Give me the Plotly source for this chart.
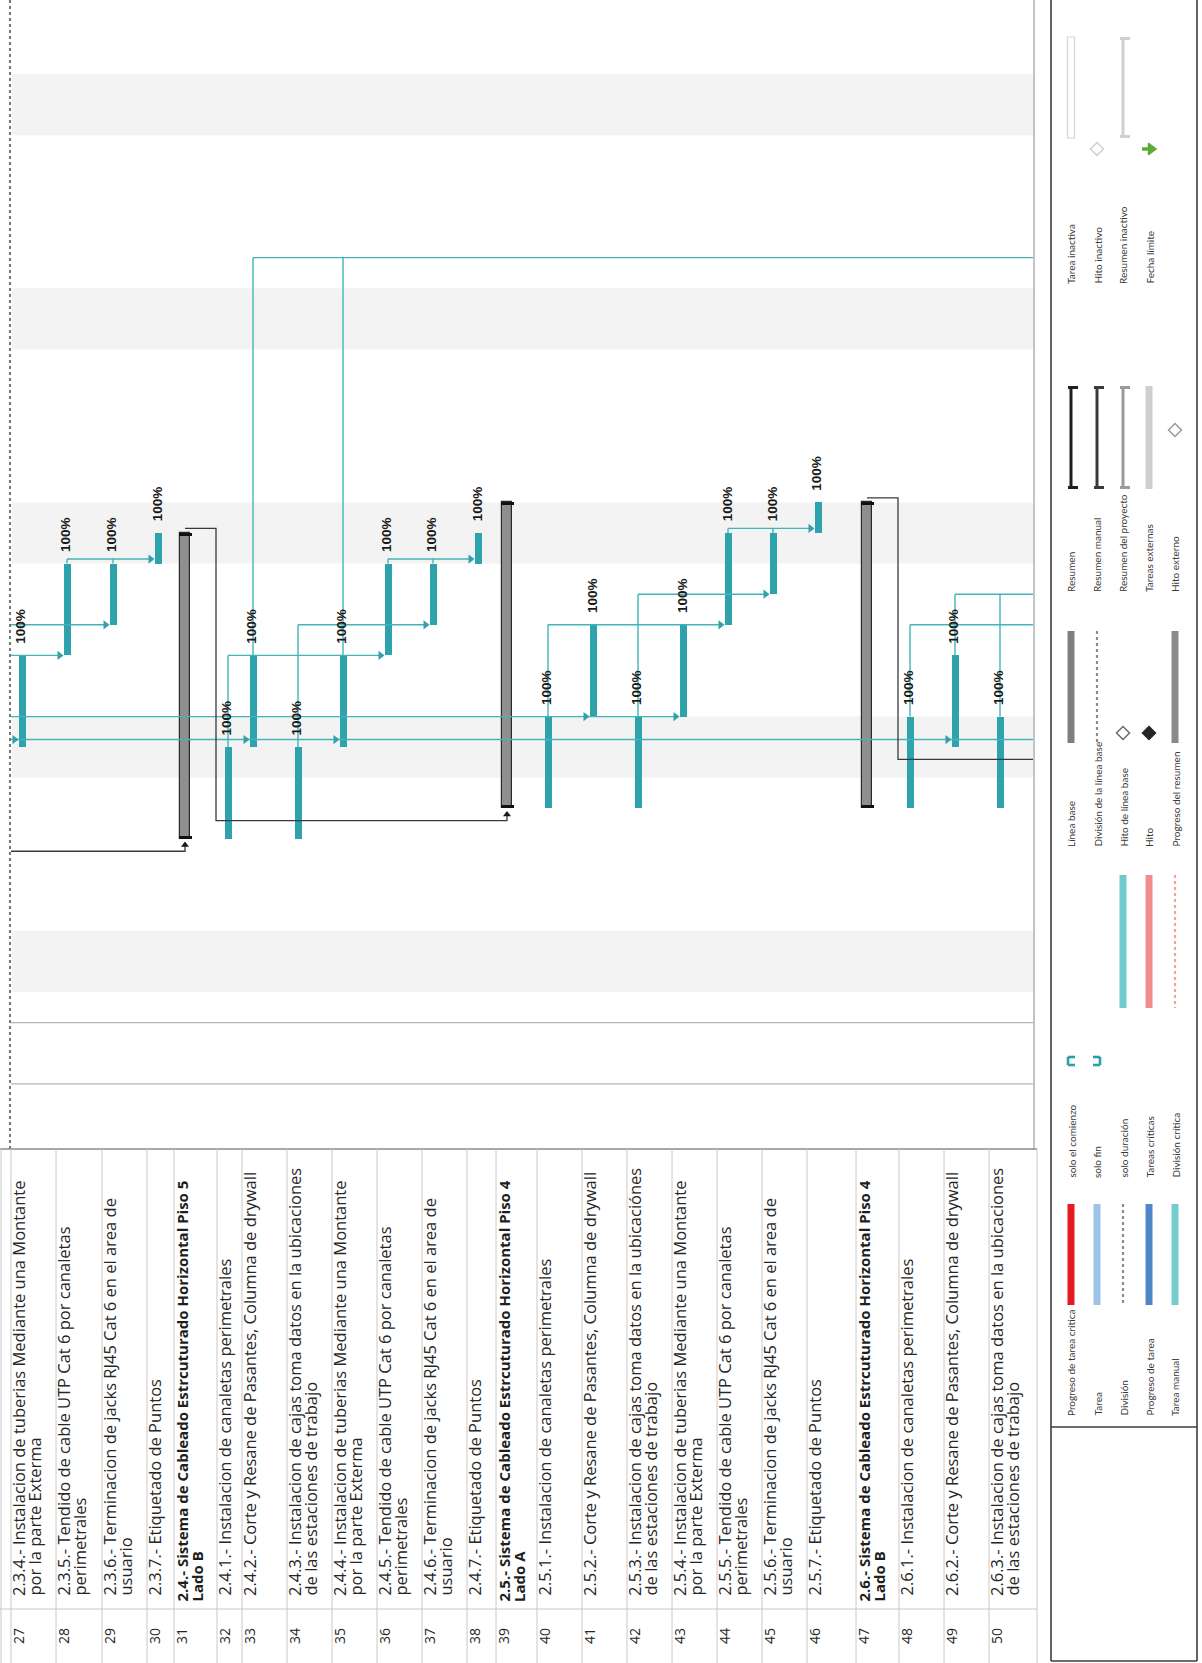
import plotly.graph_objects as go

# ------------------------------------------------------------------
# Schedule rows 27-50 (task sheet + Gantt, printed sideways)
# ------------------------------------------------------------------
task_ids = [27, 28, 29, 30, 31, 32, 33, 34, 35, 36, 37, 38,
            39, 40, 41, 42, 43, 44, 45, 46, 47, 48, 49, 50]

task_names = [
    "2.3.4.- Instalacion de tuberias Mediante una Montante<br>por la parte Exterma",
    "2.3.5.- Tendido de cable UTP Cat 6 por canaletas<br>perimetrales",
    "2.3.6.- Terminacion de jacks RJ45 Cat 6 en el area de<br>usuario",
    "2.3.7.- Etiquetado de Puntos",
    "2.4.- Sistema de Cableado Estrcuturado Horizontal Piso 5<br>Lado B",
    "2.4.1.- Instalacion de canaletas perimetrales",
    "2.4.2.- Corte y Resane de Pasantes, Columna de drywall",
    "2.4.3.- Instalacion de cajas toma datos en la ubicaciones<br>de las estaciones de trabajo",
    "2.4.4.- Instalacion de tuberias Mediante una Montante<br>por la parte Exterma",
    "2.4.5.- Tendido de cable UTP Cat 6 por canaletas<br>perimetrales",
    "2.4.6.- Terminacion de jacks RJ45 Cat 6 en el area de<br>usuario",
    "2.4.7.- Etiquetado de Puntos",
    "2.5.- Sistema de Cableado Estrcuturado Horizontal Piso 4<br>Lado A",
    "2.5.1.- Instalacion de canaletas perimetrales",
    "2.5.2.- Corte y Resane de Pasantes, Columna de drywall",
    "2.5.3.- Instalacion de cajas toma datos en la ubicaciónes<br>de las estaciones de trabajo",
    "2.5.4.- Instalacion de tuberias Mediante una Montante<br>por la parte Exterma",
    "2.5.5.- Tendido de cable UTP Cat 6 por canaletas<br>perimetrales",
    "2.5.6.- Terminacion de jacks RJ45 Cat 6 en el area de<br>usuario",
    "2.5.7.- Etiquetado de Puntos",
    "2.6.- Sistema de Cableado Estrcuturado Horizontal Piso 4<br>Lado B",
    "2.6.1.- Instalacion de canaletas perimetrales",
    "2.6.2.- Corte y Resane de Pasantes, Columna de drywall",
    "2.6.3.- Instalacion de cajas toma datos en la ubicaciones<br>de las estaciones de trabajo",
]

is_summary = [False, False, False, False, True, False, False, False, False, False, False, False,
              True, False, False, False, False, False, False, False, True, False, False, False]

# working-day index (0 = first Saturday shown at the bottom of the timeline)
start_day = [8, 11, 12, 14, 5, 5, 8, 5, 8, 11, 12, 14,
             6, 6, 9, 6, 9, 12, 13, 15, 6, 6, 8, 6]
finish_day = [11, 14, 14, 15, 15, 8, 11, 8, 11, 14, 14, 15,
              16, 9, 12, 9, 12, 15, 15, 16, 16, 9, 11, 9]
pct_complete = [100, 100, 100, 100, None, 100, 100, 100, 100, 100, 100, 100,
                None, 100, 100, 100, 100, 100, 100, 100, None, 100, 100, 100]

# non-working days (Saturday of each weekend, 2 days long)
weekend_first_day = [0, 7, 14, 21, 28]
timeline_gridlines = [-1, -3]

# dependency lanes: (time level, origin task or "edge", tasks rising into the lane,
#                    successor tasks receiving an arrow, continues past the right edge)
link_lanes = [
    (8.25, "edge", [], [27, 33, 35, 49], True),
    (11.0, "edge", [27], [28], False),
    (12.0, "edge", [], [29], False),
    (14.15, 28, [28, 29], [30], False),
    (11.0, 32, [32, 33, 35], [36], False),
    (12.0, 34, [34], [37], False),
    (14.15, 36, [36, 37], [38], False),
    (24.0, 33, [33, 35], [], True),
    (9.0, "edge", [40, 42], [41, 43], False),
    (12.0, 40, [40, 41, 43], [44], False),
    (13.0, 42, [42], [45], False),
    (15.15, 44, [44, 45], [46], False),
    (12.0, 48, [48], [], True),
    (13.0, 49, [49, 50], [], True),
]
# summary-to-summary links: (predecessor, successor, successor start)
summary_links = [("edge", 31, 5), (31, 39, 6), (47, "edge", 8)]

# legend (five groups)
legend_labels = [
    ["Progreso de tarea crítica", "Tarea", "División", "Progreso de tarea", "Tarea manual"],
    ["solo el comienzo", "solo fin", "solo duración", "Tareas críticas", "División crítica"],
    ["Línea base", "División de la línea base", "Hito de línea base", "Hito", "Progreso del resumen"],
    ["Resumen", "Resumen manual", "Resumen del proyecto", "Tareas externas", "Hito externo"],
    ["Tarea inactiva", "Hito inactivo", "Resumen inactivo", "Fecha límite"],
]
legend_symbols = [
    [("bar", "#e31b23"), ("bar", "#9dc3e6"), ("dots", "#8c8c8c"), ("bar", "#4f86c6"), ("bar", "#74cdcd")],
    [("start", "#2b9ea6"), ("end", "#2b9ea6"), ("bar", "#6fcbcc"), ("bar", "#f08c8c"), ("dots", "#f2a0a0")],
    [("bar", "#7f7f7f"), ("dots", "#8c8c8c"), ("diamond_open", "#6b6b6b"), ("diamond", "#262626"), ("bar", "#8a8a8a")],
    [("summary", "#1f1f1f"), ("summary", "#3a3a3a"), ("summary", "#9a9a9a"), ("bar", "#cfcfcf"), ("diamond_open", "#9a9a9a")],
    [("outline", "#d4d4d4"), ("diamond_open", "#cfcfcf"), ("summary", "#d0d0d0"), ("deadline", "#5ea83a")],
]

# ------------------------------------------------------------------
# Page geometry (pixels)
# ------------------------------------------------------------------
W, H = 1202, 1663
GANTT_L, GANTT_R = 11, 1034
GANTT_BOTTOM = 1149
PX_PER_DAY = 30.6
DAY0_Y = 992
T_TOP = DAY0_Y / PX_PER_DAY
T_BOT = (DAY0_Y - GANTT_BOTTOM) / PX_PER_DAY

ROW_TOP0 = 11
ROW_H = [45, 46, 45, 27, 43, 25, 45, 45, 45, 45, 45, 29,
         41, 45, 45, 45, 45, 45, 45, 49, 43, 45, 45, 48]
row_top = []
acc = ROW_TOP0
for h in ROW_H:
    row_top.append(acc)
    acc += h
TABLE_R = acc
BAR_OFFSET = 11
col = {tid: row_top[i] + BAR_OFFSET for i, tid in enumerate(task_ids)}
idx = {tid: i for i, tid in enumerate(task_ids)}

TEAL = "#2ea3ab"
LINK = "#43b4b9"
DARK = "#2a2a2a"
TASK_W = 7
SUM_W = 10

shapes = []
annotations = []


def line(x0, y0, x1, y1, color, width=1.0, dash="solid", xref="x2", yref="y2", layer="above"):
    shapes.append(dict(type="line", xref=xref, yref=yref, x0=x0, y0=y0, x1=x1, y1=y1,
                       line=dict(color=color, width=width, dash=dash), layer=layer))


def rect(x0, y0, x1, y1, fill, outline=None, width=0, xref="x2", yref="y2", layer="above"):
    shapes.append(dict(type="rect", xref=xref, yref=yref, x0=x0, y0=y0, x1=x1, y1=y1,
                       fillcolor=fill, line=dict(color=outline or fill, width=width), layer=layer))


fig = go.Figure()

# ---------------- timeline background ----------------
for d in weekend_first_day:
    rect(GANTT_L + 1, d, GANTT_R, d + 2, "#f3f3f3", xref="x", yref="y", layer="below")
for g in timeline_gridlines:
    line(GANTT_L, g, GANTT_R, g, "#b2bab2", 1.2, xref="x", yref="y", layer="below")
line(10, 0, 10, GANTT_BOTTOM, "#555555", 1.6, dash="dot")
line(GANTT_R, 0, GANTT_R, GANTT_BOTTOM, "#c4c4c4", 2)

# ---------------- dependency lanes ----------------
lx, ly, ax_, ay_ = [], [], [], []
for level, origin, risers, targets, off_right in link_lanes:
    x_start = GANTT_L if origin == "edge" else col[origin]
    tx = [col[t] - TASK_W / 2 - 4 for t in targets]
    x_end = GANTT_R if off_right else max(tx)
    lx += [x_start, x_end, None]
    ly += [level, level, None]
    for r in risers:
        lx += [col[r], col[r], None]
        ly += [finish_day[idx[r]], level, None]
    ax_ += tx
    ay_ += [level] * len(tx)
fig.add_trace(go.Scatter(x=lx, y=ly, mode="lines", line=dict(color=LINK, width=1.4),
                         hoverinfo="skip", xaxis="x", yaxis="y"))

# summary links (black)
sx, sy, sax, say = [], [], [], []
for pred, succ, succ_start in summary_links:
    drop = succ_start - 0.4
    x_succ = GANTT_R if succ == "edge" else col[succ]
    if pred == "edge":
        sx += [GANTT_L, x_succ, x_succ, None]
        sy += [drop, drop, succ_start - 0.15, None]
    else:
        top = finish_day[idx[pred]] + 0.15
        xj = col[pred] + 31
        pts_x = [col[pred], xj, xj, x_succ]
        pts_y = [top, top, drop, drop]
        if succ != "edge":
            pts_x.append(x_succ)
            pts_y.append(succ_start - 0.15)
        sx += pts_x + [None]
        sy += pts_y + [None]
    if succ != "edge":
        sax.append(x_succ)
        say.append(succ_start - 0.2)
fig.add_trace(go.Scatter(x=sx, y=sy, mode="lines", line=dict(color="#3a3a3a", width=1.3),
                         hoverinfo="skip", xaxis="x", yaxis="y"))

# ---------------- bars ----------------
task_rows = [i for i in range(len(task_ids)) if not is_summary[i]]
sum_rows = [i for i in range(len(task_ids)) if is_summary[i]]

fig.add_trace(go.Bar(
    x=[col[task_ids[i]] for i in task_rows],
    y=[finish_day[i] - start_day[i] for i in task_rows],
    base=[start_day[i] for i in task_rows],
    width=TASK_W, marker=dict(color=TEAL, line=dict(width=0)),
    hoverinfo="skip", xaxis="x", yaxis="y"))

fig.add_trace(go.Bar(
    x=[col[task_ids[i]] for i in sum_rows],
    y=[finish_day[i] - start_day[i] for i in sum_rows],
    base=[start_day[i] for i in sum_rows],
    width=SUM_W, marker=dict(color="#8f8f8f", line=dict(color=DARK, width=1.2)),
    hoverinfo="skip", xaxis="x", yaxis="y"))
# summary end caps
cap = 0.1
fig.add_trace(go.Bar(
    x=[col[task_ids[i]] for i in sum_rows] * 2,
    y=[cap] * (2 * len(sum_rows)),
    base=[start_day[i] for i in sum_rows] + [finish_day[i] - cap for i in sum_rows],
    width=SUM_W + 3, marker=dict(color="#111111", line=dict(width=0)),
    hoverinfo="skip", xaxis="x", yaxis="y"))

# arrowheads
fig.add_trace(go.Scatter(x=ax_, y=ay_, mode="markers",
                         marker=dict(symbol="triangle-right", size=8, color=TEAL),
                         hoverinfo="skip", xaxis="x", yaxis="y"))
fig.add_trace(go.Scatter(x=sax, y=say, mode="markers",
                         marker=dict(symbol="triangle-up", size=7, color="#1a1a1a"),
                         hoverinfo="skip", xaxis="x", yaxis="y"))

# percent-complete labels
for i in task_rows:
    annotations.append(dict(
        x=col[task_ids[i]] - 1, y=finish_day[i] + 0.3, xref="x", yref="y",
        text=f"<b>{pct_complete[i]}%</b>", showarrow=False, textangle=-90,
        xanchor="center", yanchor="bottom",
        font=dict(family="Liberation Sans, Arial", size=13.5, color="#1a1a1a")))

# ---------------- task sheet ----------------
TABLE_TOP = 1149
ID_DIV = 1609
line(0, TABLE_TOP, TABLE_R, TABLE_TOP, "#8a8a8a", 1.4)
line(0, ID_DIV, TABLE_R, ID_DIV, "#c8c8c8", 1)
line(1, TABLE_TOP, 1, H, "#c8c8c8", 1)
for xb in row_top + [TABLE_R]:
    line(xb, TABLE_TOP, xb, H, "#c8c8c8", 1)

NAME_FONT = dict(family="Open Sans, Lato, sans-serif", size=16.5, color="#262626")
SUMMARY_FONT = dict(family="Open Sans, Lato, sans-serif", size=15, color="#1e1e1e")
LINE_STEP = 15.5
for i, tid in enumerate(task_ids):
    parts = task_names[i].split("<br>")
    y_start = 1604 if is_summary[i] else 1598
    for j, part in enumerate(parts):
        annotations.append(dict(
            x=row_top[i] + 7 + j * LINE_STEP, y=y_start, xref="x2", yref="y2",
            text=f"<b>{part}</b>" if is_summary[i] else part,
            showarrow=False, textangle=-90, xanchor="center", yanchor="bottom",
            font=SUMMARY_FONT if is_summary[i] else NAME_FONT))
    annotations.append(dict(
        x=row_top[i] + 7, y=1636, xref="x2", yref="y2", text=str(tid),
        showarrow=False, textangle=-90, xanchor="center", yanchor="middle",
        font=dict(family="Open Sans, sans-serif", size=14, color="#262626")))

# ---------------- legend panel ----------------
LEG_L, LEG_R, LEG_B, LEG_DIV = 1051, 1197, 1661, 1427
line(LEG_L, 0, LEG_L, LEG_B, "#3c3c3c", 1.6)
line(LEG_R, 0, LEG_R, LEG_B, "#3c3c3c", 1.6)
line(LEG_L, LEG_B, LEG_R, LEG_B, "#3c3c3c", 1.6)
line(LEG_L, LEG_DIV, LEG_R, LEG_DIV, "#3c3c3c", 1.6)

LEG_X = [1071, 1097, 1123, 1149, 1175]
# per group: label start (bottom), symbol top, symbol bottom, marker position
LEG_GROUPS = [(1418, 1204, 1305, 1300), (1180, 875, 1008, 1061), (849, 631, 743, 733),
              (594, 386, 489, 430), (286, 37, 138, 149)]
LEG_FONT = dict(family="Lato, sans-serif", size=10, color="#3a3a3a")

dmx, dmy, dm_fill, dm_line, dm_sym = [], [], [], [], []
for g, (labels, symbols) in enumerate(zip(legend_labels, legend_symbols)):
    lb, s_top, s_bot, mark_y = LEG_GROUPS[g]
    for r, (lab, (kind, colr)) in enumerate(zip(labels, symbols)):
        cx = LEG_X[r]
        annotations.append(dict(x=cx, y=lb, xref="x2", yref="y2", text=lab, showarrow=False,
                                textangle=-90, xanchor="center", yanchor="bottom", font=LEG_FONT))
        if kind == "bar":
            rect(cx - 3.5, s_top, cx + 3.5, s_bot, colr)
        elif kind == "outline":
            rect(cx - 3.5, s_top, cx + 3.5, s_bot, "#ffffff", colr, 1.2)
        elif kind == "dots":
            line(cx, s_top, cx, s_bot, colr, 2.2, dash="dot")
        elif kind == "summary":
            line(cx, s_top, cx, s_bot, colr, 3)
            line(cx - 3, s_top + 1.5, cx + 7, s_top + 1.5, colr, 3)
            line(cx - 3, s_bot - 1.5, cx + 7, s_bot - 1.5, colr, 3)
        elif kind in ("start", "end"):
            spine = cx - 3 if kind == "start" else cx + 3
            arm_to = cx + 4 if kind == "start" else cx - 4
            line(spine, mark_y - 4, spine, mark_y + 4, colr, 2.6)
            line(spine, mark_y - 4, arm_to, mark_y - 4, colr, 2.6)
            line(spine, mark_y + 4, arm_to, mark_y + 4, colr, 2.6)
        elif kind in ("diamond", "diamond_open"):
            dmx.append(cx)
            dmy.append(mark_y)
            dm_fill.append(colr if kind == "diamond" else "#ffffff")
            dm_line.append(colr)
            dm_sym.append("diamond")
        elif kind == "deadline":
            line(cx - 7, mark_y, cx, mark_y, colr, 3.5)
            dmx.append(cx + 2)
            dmy.append(mark_y)
            dm_fill.append(colr)
            dm_line.append(colr)
            dm_sym.append("triangle-right")

fig.add_trace(go.Scatter(x=dmx, y=dmy, mode="markers", xaxis="x2", yaxis="y2",
                         marker=dict(symbol=dm_sym, size=10, color=dm_fill,
                                     line=dict(color=dm_line, width=1.5)),
                         hoverinfo="skip"))

# ---------------- layout ----------------
fig.update_layout(
    width=W, height=H, margin=dict(l=0, r=0, t=0, b=0),
    paper_bgcolor="white", plot_bgcolor="rgba(0,0,0,0)",
    showlegend=False, barmode="overlay", bargap=0,
    xaxis=dict(domain=[0, GANTT_R / W], range=[0, GANTT_R], visible=False, fixedrange=True),
    yaxis=dict(domain=[1 - GANTT_BOTTOM / H, 1], range=[T_BOT, T_TOP], visible=False,
               fixedrange=True),
    xaxis2=dict(domain=[0, 1], range=[0, W], visible=False, anchor="y2", fixedrange=True),
    yaxis2=dict(domain=[0, 1], range=[H, 0], visible=False, anchor="x2", fixedrange=True),
    shapes=shapes, annotations=annotations,
)

fig.write_html("out.html")
